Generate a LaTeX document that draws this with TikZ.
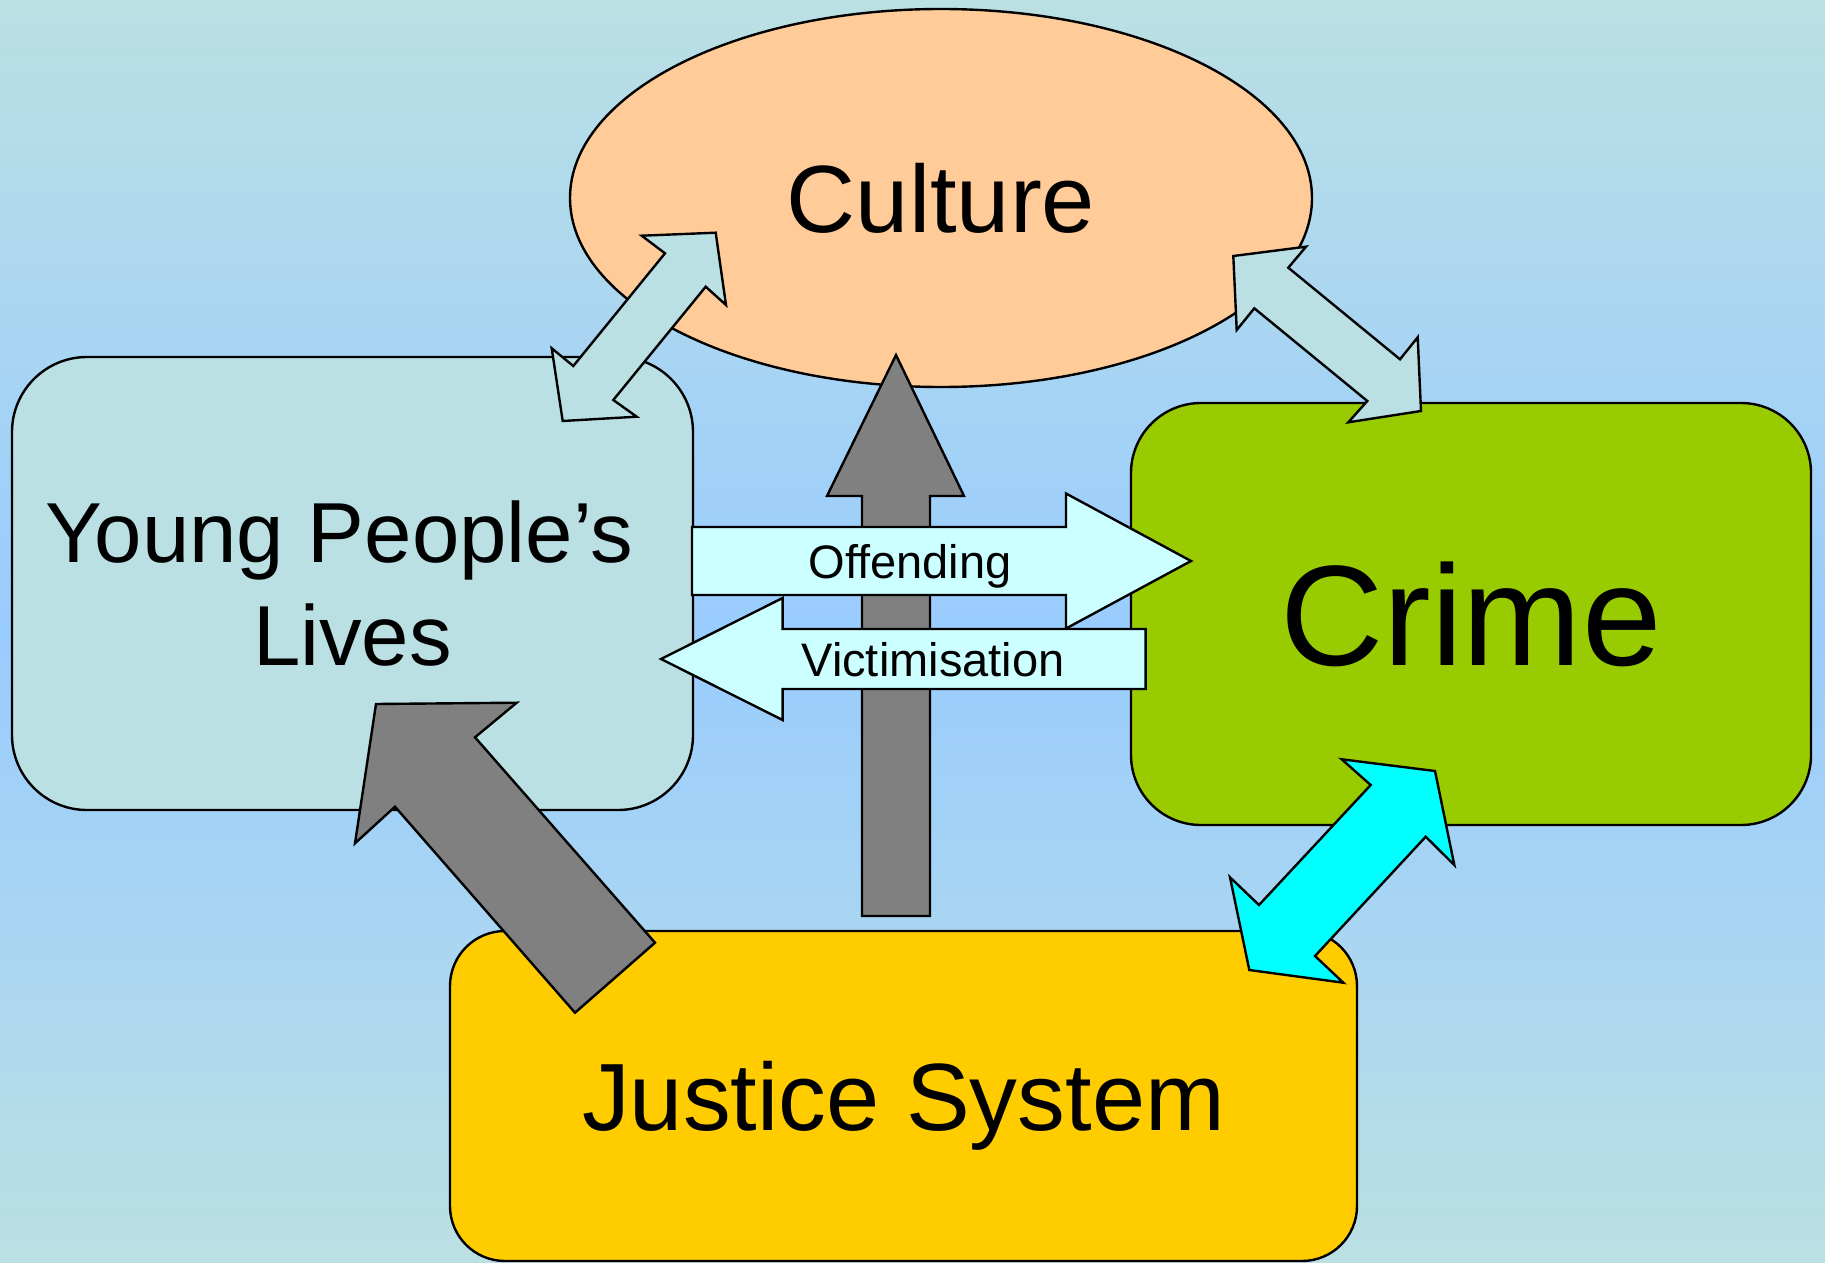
\documentclass[tikz,border=0pt]{standalone}
\usepackage{fontspec}
\setmainfont{Liberation Sans}
\usetikzlibrary{shapes.geometric}
\definecolor{bgteal}{HTML}{BBE0E3}
\definecolor{bgblue}{HTML}{99CCFF}
\definecolor{culturefill}{HTML}{FFCC99}
\definecolor{crimefill}{HTML}{99CC00}
\definecolor{justicefill}{HTML}{FFCC00}
\definecolor{youngfill}{HTML}{BBE0E3}
\definecolor{flowfill}{HTML}{CCFFFF}
\definecolor{grayfill}{HTML}{808080}
\definecolor{cyanfill}{HTML}{00FFFF}
\begin{document}
\begin{tikzpicture}[x=0.5pt,y=-0.5pt,
  outline/.style={draw=black,line width=1.2pt,line join=miter},
  boxnode/.style={outline,rectangle,inner sep=0pt,outer sep=0pt,align=center,text depth=0pt},
  bigtext/.style={font=\fontsize{47.8}{57}\selectfont},
  flowtext/.style={font=\fontsize{23.5}{28}\selectfont,inner sep=0pt,anchor=base}]
\useasboundingbox (0,0) rectangle (1825,1263);
\shade[top color=bgteal,bottom color=bgteal,middle color=bgblue] (0,0) rectangle (1825,1263);

% main shapes
\node[outline,ellipse,fill=culturefill,minimum width=371pt,minimum height=189pt,inner sep=0pt,text depth=0pt,bigtext]
  (culture) at (941,198) {Culture};
\node[boxnode,fill=youngfill,minimum width=340.5pt,minimum height=226.5pt,rounded corners=37.5pt,
  font=\fontsize{42.6}{51.5}\selectfont]
  (young) at (352.5,583.5) {Young People’s\hbox to 13pt{}\\Lives};
\node[boxnode,fill=crimefill,minimum width=340pt,minimum height=211pt,rounded corners=35pt,
  font=\fontsize{71.5}{84}\selectfont]
  (crime) at (1471,614) {Crime};
\node[boxnode,fill=justicefill,minimum width=453.5pt,minimum height=165pt,rounded corners=27.5pt,bigtext]
  (justice) at (903.5,1096) {Justice System};

% grey arrow: justice -> culture
\draw[outline,fill=grayfill] (862,916) -- (862,496) -- (827,496) -- (896,355) -- (964,496) -- (930,496) -- (930,916) -- cycle;
% grey arrow: justice -> young people's lives
\draw[outline,fill=grayfill] (376,704) -- (516.7,702.7) -- (475,737.3) -- (655,942.7) -- (575,1012.7) -- (395,806.7) -- (355,843.3) -- cycle;

% offending arrow
\draw[outline,fill=flowfill] (692,527) -- (1066,527) -- (1066,493.5) -- (1191,561) -- (1066,628.5) -- (1066,595) -- (692,595) -- cycle;
\node[flowtext] (offending) at (910,578) {Offending};
% victimisation arrow
\draw[outline,fill=flowfill] (1145.6,629) -- (782.6,629) -- (782.6,598) -- (661,659) -- (782.6,720) -- (782.6,689) -- (1145.6,689) -- cycle;
\node[flowtext] (victim) at (933,676.7) {Victimisation};

% young <-> culture
\draw[outline,fill=youngfill] (715.7,232.7) -- (726,305) -- (705.7,286.7) -- (613.3,400) -- (636.7,416.7) -- (562.7,421) -- (551.7,348.3) -- (573.3,366) -- (665,253.3) -- (641.7,235.7) -- cycle;
% culture <-> crime
\draw[outline,fill=youngfill] (1233.3,256) -- (1306,246.7) -- (1288.3,267.7) -- (1400,359.3) -- (1417.7,337.3) -- (1421,411) -- (1348.3,422.3) -- (1367.3,401) -- (1254.3,308.3) -- (1236.7,330) -- cycle;
% crime <-> justice
\draw[outline,fill=cyanfill] (1435,771) -- (1454.3,865) -- (1425.7,836.7) -- (1315,956) -- (1343.3,982.7) -- (1249.3,970) -- (1230,877.3) -- (1259,905) -- (1370.7,785) -- (1341.7,759.3) -- cycle;
\end{tikzpicture}
\end{document}
